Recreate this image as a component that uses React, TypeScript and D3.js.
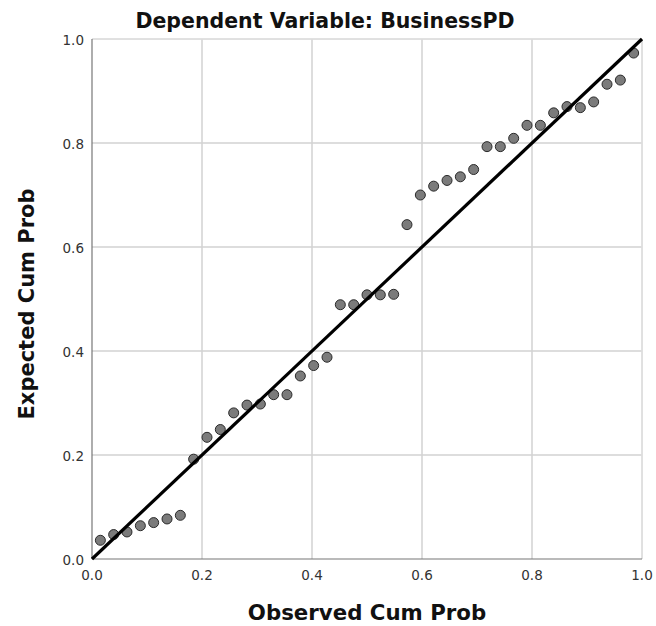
import React from 'react'
import * as d3 from 'd3'

const observed = [
  0.0152, 0.0394, 0.0636, 0.0879, 0.1121, 0.1364, 0.1606, 0.1848, 0.2091, 0.2333,
  0.2576, 0.2818, 0.3061, 0.3303, 0.3545, 0.3788, 0.403, 0.4273, 0.4515, 0.4758,
  0.5, 0.5242, 0.5485, 0.5727, 0.597, 0.6212, 0.6455, 0.6697, 0.6939, 0.7182,
  0.7424, 0.7667, 0.7909, 0.8152, 0.8394, 0.8636, 0.8879, 0.9121, 0.9364, 0.9606,
  0.9848,
]
const expected = [
  0.036, 0.047, 0.052, 0.064, 0.07, 0.077, 0.084, 0.192, 0.234, 0.249,
  0.281, 0.296, 0.298, 0.316, 0.316, 0.352, 0.372, 0.388, 0.489, 0.489,
  0.508, 0.508, 0.509, 0.643, 0.7, 0.717, 0.728, 0.735, 0.749, 0.793,
  0.793, 0.809, 0.834, 0.834, 0.858, 0.87, 0.868, 0.879, 0.913, 0.921,
  0.973,
]
const ticks = [0, 0.2, 0.4, 0.6, 0.8, 1.0]

const W = 656
const H = 626
const margin = { left: 92, right: 14, top: 39, bottom: 67 }

export default function App() {
  const x = d3.scaleLinear().domain([0, 1]).range([margin.left, W - margin.right])
  const y = d3.scaleLinear().domain([0, 1]).range([H - margin.bottom, margin.top])
  const font = '"DejaVu Sans", sans-serif'
  const pts = observed.map((o, i) => [o, expected[i]])

  return (
    <svg width={W} height={H} style={{ position: 'absolute', left: 0, top: 0, background: '#fff' }}>
      {/* grid */}
      {ticks.slice(1).map(t => (
        <line key={'gx' + t} x1={x(t)} x2={x(t)} y1={y(0)} y2={y(1)} stroke="#d2d2d2" strokeWidth={1.5} />
      ))}
      {ticks.slice(1).map(t => (
        <line key={'gy' + t} x1={x(0)} x2={x(1)} y1={y(t)} y2={y(t)} stroke="#d2d2d2" strokeWidth={1.5} />
      ))}
      {/* frame */}
      <line x1={x(0)} x2={x(1)} y1={y(1)} y2={y(1)} stroke="#e4e4e4" strokeWidth={1} />
      <line x1={x(1)} x2={x(1)} y1={y(0)} y2={y(1)} stroke="#e4e4e4" strokeWidth={1} />
      <line x1={x(0)} x2={x(0)} y1={y(0)} y2={y(1)} stroke="#777" strokeWidth={1.2} />
      <line x1={x(0)} x2={x(1)} y1={y(0)} y2={y(0)} stroke="#777" strokeWidth={1.2} />

      {/* points */}
      {pts.map((p, i) => (
        <circle key={i} cx={x(p[0])} cy={y(p[1])} r={5} fill="#7b7b7b" stroke="#2a2a2a" strokeWidth={1} />
      ))}

      {/* reference line */}
      <path d={d3.line()([[x(0), y(0)], [x(1), y(1)]]) || ''} stroke="#000" strokeWidth={3.2} fill="none" />

      {/* tick labels */}
      {ticks.map(t => (
        <text key={'tx' + t} x={x(t)} y={y(0) + 21} textAnchor="middle" fontFamily={font} fontSize={13.5} fill="#333">
          {d3.format('.1f')(t)}
        </text>
      ))}
      {ticks.map(t => (
        <text key={'ty' + t} x={x(0) - 8} y={y(t) + 6} textAnchor="end" fontFamily={font} fontSize={13.5} fill="#333">
          {d3.format('.1f')(t)}
        </text>
      ))}

      <text x={325} y={28} textAnchor="middle" fontFamily={font} fontWeight="bold" fontSize={20.5} fill="#111">
        Dependent Variable: BusinessPD
      </text>
      <text x={(x(0) + x(1)) / 2} y={620} textAnchor="middle" fontFamily={font} fontWeight="bold" fontSize={21.3} fill="#111">
        Observed Cum Prob
      </text>
      <text transform={`translate(34,${(y(0) + y(1)) / 2 + 5}) rotate(-90)`} textAnchor="middle" fontFamily={font} fontWeight="bold" fontSize={21} fill="#111">
        Expected Cum Prob
      </text>
    </svg>
  )
}
